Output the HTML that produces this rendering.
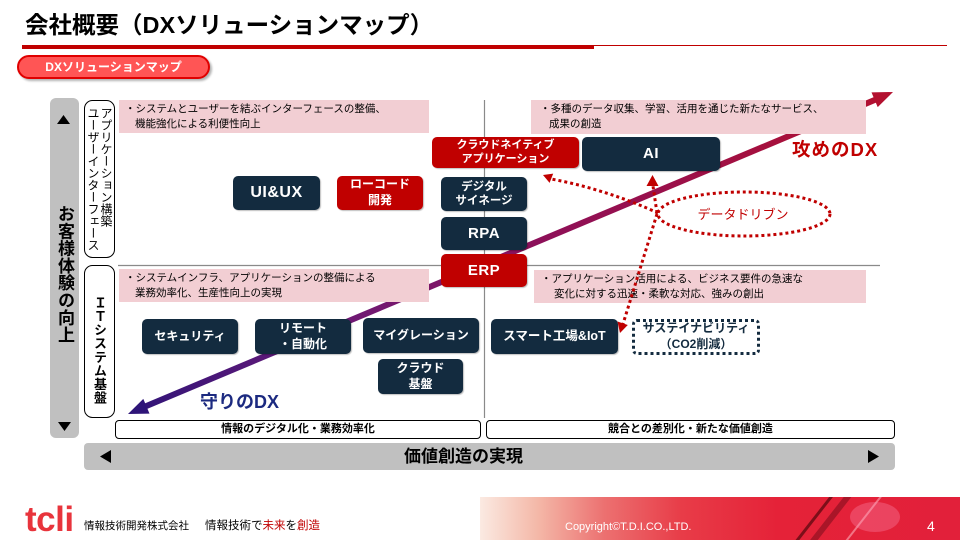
<!DOCTYPE html>
<html><head><meta charset="utf-8">
<style>
*{margin:0;padding:0;box-sizing:border-box}
body{width:960px;height:540px;position:relative;overflow:hidden;background:#fff;font-family:"Liberation Sans","Noto Sans CJK JP",sans-serif;color:#000}
.a{position:absolute}
.pink{position:absolute;background:#f2ced3;font-size:10.5px;line-height:15px;padding:2px 0 0 6px;z-index:2;white-space:nowrap}
.n{position:absolute;display:flex;align-items:center;justify-content:center;text-align:center;color:#fff;font-weight:bold;border-radius:5px;background:#132b3f;line-height:1.3;z-index:3;font-size:12px;box-shadow:1px 1px 1px rgba(0,0,0,.25);white-space:nowrap}
.r{background:#c00000}
.big{font-size:15px;letter-spacing:.5px}
.lb{position:absolute;border:1px solid #000;border-radius:4px;font-size:11px;font-weight:bold;text-align:center;line-height:17px;z-index:2;background:#fff}
.vt{position:absolute;writing-mode:vertical-rl;text-orientation:upright;white-space:nowrap}
</style></head><body>

<!-- Title -->
<div class="a" style="left:25px;top:9px;font-size:23.5px;font-weight:bold;line-height:32px;white-space:nowrap">会社概要（DXソリューションマップ）</div>
<div class="a" style="left:22px;top:45px;width:572px;height:4px;background:#c00000"></div>
<div class="a" style="left:594px;top:45px;width:353px;height:1px;background:#c00000"></div>

<!-- Pill -->
<div class="a" style="left:17px;top:55px;width:193px;height:24px;background:#ff5555;border:2px solid #e00000;border-radius:12px;color:#fff;font-weight:bold;font-size:12px;line-height:20px;text-align:center;box-shadow:2px 2px 2px rgba(0,0,0,.3)">DXソリューションマップ</div>

<!-- background shapes -->
<svg class="a" style="left:0;top:0;z-index:1" width="960" height="540" viewBox="0 0 960 540">
  <defs>
    <linearGradient id="g" gradientUnits="userSpaceOnUse" x1="128" y1="414" x2="893" y2="92">
      <stop offset="0" stop-color="#2e1478"/>
      <stop offset="0.25" stop-color="#6a1a78"/>
      <stop offset="0.55" stop-color="#8e1058"/>
      <stop offset="1" stop-color="#b3102f"/>
    </linearGradient>
  </defs>
  <rect x="50" y="98" width="29" height="340" rx="6" fill="#c0c0c0"/>
  <polygon points="57,124 70,124 63.5,115" fill="#000"/>
  <polygon points="58,422 71,422 64.5,431" fill="#000"/>
  <rect x="84" y="443" width="811" height="27" rx="4" fill="#c0c0c0"/>
  <polygon points="100,456.5 111,450 111,463" fill="#000"/>
  <polygon points="879,456.5 868,450 868,463" fill="#000"/>
  <rect x="84.5" y="100.5" width="30" height="157" rx="8" fill="#fff" stroke="#000" stroke-width="1"/>
  <rect x="84.5" y="265.5" width="30" height="152" rx="8" fill="#fff" stroke="#000" stroke-width="1"/>
  <line x1="118" y1="265.5" x2="880" y2="265.5" stroke="#8a8a8a" stroke-width="1.2"/>
  <line x1="484.5" y1="100" x2="484.5" y2="418" stroke="#8a8a8a" stroke-width="1.2"/>
  <line x1="144" y1="407" x2="877" y2="99" stroke="url(#g)" stroke-width="6"/>
  <polygon points="893,92 877.7,107.1 871.5,92.4" fill="#b3102f"/>
  <polygon points="128,414 149.5,413.6 143.3,398.9" fill="#2e1478"/>
</svg>

<!-- vertical texts -->
<div class="vt" style="left:56px;top:205px;font-size:17px;font-weight:bold;line-height:17px;letter-spacing:.3px;z-index:2">お客様体験の向上</div>
<div class="vt" style="left:86px;top:107px;font-size:12px;line-height:13px;z-index:2">アプリケーション構築<br>ユーザーインターフェース</div>
<div class="vt" style="left:93px;top:296px;font-size:13px;line-height:13px;font-weight:bold;letter-spacing:.6px;z-index:2">ＩＴシステム基盤</div>

<!-- pink boxes -->
<div class="pink" style="left:119px;top:100px;width:310px;height:33px">・システムとユーザーを結ぶインターフェースの整備、<br><span style="margin-left:10px">機能強化による利便性向上</span></div>
<div class="pink" style="left:531px;top:100px;width:335px;height:34px;padding-left:9px">・多種のデータ収集、学習、活用を通じた新たなサービス、<br><span style="margin-left:9px">成果の創造</span></div>
<div class="pink" style="left:119px;top:269px;width:310px;height:33px">・システムインフラ、アプリケーションの整備による<br><span style="margin-left:10px">業務効率化、生産性向上の実現</span></div>
<div class="pink" style="left:534px;top:270px;width:332px;height:33px;padding-left:7px">・アプリケーション活用による、ビジネス要件の急速な<br><span style="margin-left:13px">変化に対する迅速・柔軟な対応、強みの創出</span></div>

<!-- nodes -->
<div class="n big" style="left:233px;top:176px;width:87px;height:34px;font-size:16px">UI&amp;UX</div>
<div class="n r" style="left:337px;top:176px;width:86px;height:34px">ローコード<br>開発</div>
<div class="n r" style="left:432px;top:137px;width:147px;height:31px;font-size:11px;line-height:1.25">クラウドネイティブ<br>アプリケーション</div>
<div class="n" style="left:441px;top:177px;width:86px;height:34px;font-size:11.5px;line-height:1.25">デジタル<br>サイネージ</div>
<div class="n big" style="left:441px;top:217px;width:86px;height:33px">RPA</div>
<div class="n r big" style="left:441px;top:254px;width:86px;height:33px">ERP</div>
<div class="n big" style="left:582px;top:137px;width:138px;height:34px">AI</div>
<div class="n" style="left:142px;top:319px;width:96px;height:35px">セキュリティ</div>
<div class="n" style="left:255px;top:319px;width:96px;height:35px">リモート<br>・自動化</div>
<div class="n" style="left:363px;top:318px;width:116px;height:35px">マイグレーション</div>
<div class="n" style="left:378px;top:359px;width:85px;height:35px">クラウド<br>基盤</div>
<div class="n" style="left:491px;top:319px;width:127px;height:35px;font-size:12.5px">スマート工場&amp;IoT</div>
<div class="n" style="left:632px;top:319px;width:128px;height:36px;background:#fff;border:3px dotted #132b3f;color:#132b3f;box-shadow:none">サステイナビリティ<br>（CO2削減）</div>

<!-- DX labels -->
<div class="a" style="left:792px;top:138px;font-size:18.5px;font-weight:bold;color:#c00000;line-height:24px;letter-spacing:1px;white-space:nowrap;z-index:3">攻めのDX</div>
<div class="a" style="left:200px;top:390px;font-size:18px;font-weight:bold;color:#1c2a80;line-height:24px;white-space:nowrap;z-index:3">守りのDX</div>

<!-- dotted overlay -->
<svg class="a" style="left:0;top:0;z-index:4" width="960" height="540" viewBox="0 0 960 540">
  <g fill="none" stroke="#c00000" stroke-width="3" stroke-dasharray="3 3">
    <ellipse cx="744" cy="214" rx="86" ry="22"/>
    <path d="M658,213 C630,200 590,186 551,179"/>
    <path d="M657,213 L653,186"/>
    <path d="M657,214 L623,324"/>
  </g>
  <g fill="#c00000">
    <polygon points="543,175 553.2,173.6 549.6,182.9"/>
    <polygon points="652.5,175 646.5,186 658.5,186"/>
    <polygon points="620,333 627.8,325 617.5,321.5"/>
  </g>
  <text x="743" y="219" text-anchor="middle" font-family="Liberation Sans, Noto Sans CJK JP, sans-serif" font-size="13" fill="#c00000">データドリブン</text>
</svg>

<!-- bottom labels -->
<div class="lb" style="left:115px;top:420px;width:366px;height:19px">情報のデジタル化・業務効率化</div>
<div class="lb" style="left:486px;top:420px;width:409px;height:19px">競合との差別化・新たな価値創造</div>
<div class="a" style="left:404px;top:443px;font-size:17px;font-weight:bold;line-height:27px;white-space:nowrap;z-index:2">価値創造の実現</div>

<!-- footer -->
<div class="a" style="left:25px;top:502px;font-size:35px;font-weight:bold;color:#e8343c;line-height:35px;letter-spacing:-0.5px">tcli</div>
<div class="a" style="left:84px;top:519px;font-size:10.5px;line-height:14px;white-space:nowrap">情報技術開発株式会社</div>
<div class="a" style="left:205px;top:519px;font-size:11.5px;line-height:15px;white-space:nowrap">情報技術で<span style="color:#c00000">未来</span>を<span style="color:#c00000">創造</span></div>

<div class="a" style="left:480px;top:497px;width:480px;height:43px;background:linear-gradient(90deg,#fbeae2 0,#f4b8a8 12%,#ec7070 26%,#e83c48 42%,#e52238 62%,#e2203a 100%);overflow:hidden">
  <div class="a" style="left:330px;top:-10px;width:3px;height:70px;background:rgba(40,0,0,.55);transform:rotate(38deg)"></div>
  <div class="a" style="left:345px;top:-10px;width:6px;height:70px;background:rgba(60,0,10,.35);transform:rotate(38deg)"></div>
  <div class="a" style="left:380px;top:-10px;width:2px;height:70px;background:rgba(255,200,210,.5);transform:rotate(38deg)"></div>
  <div class="a" style="left:370px;top:5px;width:50px;height:30px;border-radius:50%;background:rgba(255,150,190,.3)"></div>
</div>
<div class="a" style="left:565px;top:520px;font-size:11px;line-height:14px;color:#fff;white-space:nowrap">Copyright©T.D.I.CO.,LTD.</div>
<div class="a" style="left:927px;top:518px;font-size:14px;line-height:16px;color:#fff">4</div>

</body></html>
